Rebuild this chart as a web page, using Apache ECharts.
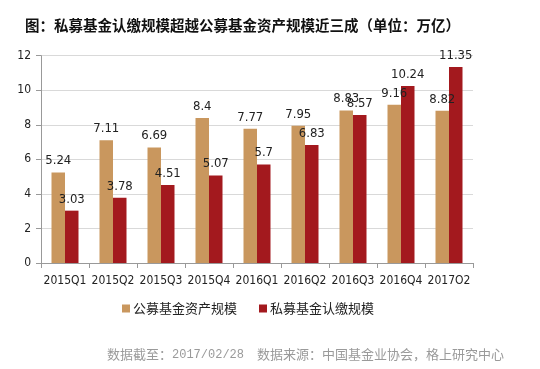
<!DOCTYPE html>
<html>
<head>
<meta charset="utf-8">
<script src="https://cdn.jsdelivr.net/npm/echarts@6/dist/echarts.min.js"></script>
<style>html,body{margin:0;padding:0;background:#fff;}#c{width:540px;height:369px;}</style>
</head>
<body>
<div id="c"></div>
<script>
var categories = ['2015Q1','2015Q2','2015Q3','2015Q4','2016Q1','2016Q2','2016Q3','2016Q4','2017O2'];
var publicFund = [5.24, 7.11, 6.69, 8.4, 7.77, 7.95, 8.83, 9.16, 8.82];
var privateFund = [3.03, 3.78, 4.51, 5.07, 5.7, 6.83, 8.57, 10.24, 11.35];
var seriesNames = ['公募基金资产规模', '私募基金认缴规模'];
var yTicks = [0, 2, 4, 6, 8, 10, 12];

var latin = '"DejaVu Sans Condensed", "DejaVu Sans", sans-serif';
var cjk = '"Noto Sans CJK SC", sans-serif';
var chart = echarts.init(document.getElementById('c'), null, {renderer: 'canvas'});
chart.setOption({
  backgroundColor: '#fff',
  animation: false,
  title: [{
    text: '图：私募基金认缴规模超越公募基金资产规模近三成（单位：万亿）',
    left: 20, top: 13,
    textStyle: {fontFamily: cjk, fontSize: 14.5, fontWeight: 'bold', color: '#111'}
  }, {
    text: '{a|数据截至：}{b|2017/02/28}{a|　数据来源：中国基金业协会，格上研究中心}',
    left: 102, top: 343,
    textStyle: {
      fontWeight: 'normal', color: '#9a9a9a',
      rich: {
        a: {fontFamily: cjk, fontSize: 13, fontWeight: 'normal', color: '#9a9a9a'},
        b: {fontFamily: '"Liberation Mono", "DejaVu Sans Mono", monospace', fontSize: 12, fontWeight: 'normal', color: '#9a9a9a'}
      }
    }
  }],
  legend: {
    data: seriesNames,
    left: 117, top: 297,
    icon: 'rect', itemWidth: 8, itemHeight: 8, itemGap: 22,
    textStyle: {fontFamily: cjk, fontSize: 13, color: '#222', padding: [0,0,0,-2]}
  },
  grid: {left: 41, right: 67, top: 55.7, bottom: 106, containLabel: false},
  xAxis: {
    type: 'category',
    data: categories,
    axisLine: {lineStyle: {color: '#999'}},
    axisTick: {show: true, length: 5, lineStyle: {color: '#999'}},
    axisLabel: {fontFamily: latin, fontSize: 12, color: '#222', margin: 12, interval: 0}
  },
  yAxis: {
    type: 'value',
    min: yTicks[0], max: yTicks[yTicks.length - 1], interval: 2,
    axisLine: {show: true, lineStyle: {color: '#999'}},
    axisTick: {show: true, length: 5, inside: false, lineStyle: {color: '#999'}},
    splitLine: {lineStyle: {color: '#d9d9d9'}},
    axisLabel: {fontFamily: latin, fontSize: 12, color: '#222', margin: 10}
  },
  series: [{
    name: seriesNames[0], type: 'bar', data: publicFund,
    barWidth: 13.5, barGap: '0%',
    itemStyle: {color: '#C9975E'},
    label: {show: true, position: 'top', distance: 5, fontFamily: latin, fontSize: 13, color: '#222'}
  }, {
    name: seriesNames[1], type: 'bar', data: privateFund,
    barWidth: 13.5, barGap: '0%',
    itemStyle: {color: '#A3191E'},
    label: {show: true, position: 'top', distance: 5, fontFamily: latin, fontSize: 13, color: '#222'}
  }]
});
</script>
</body>
</html>
